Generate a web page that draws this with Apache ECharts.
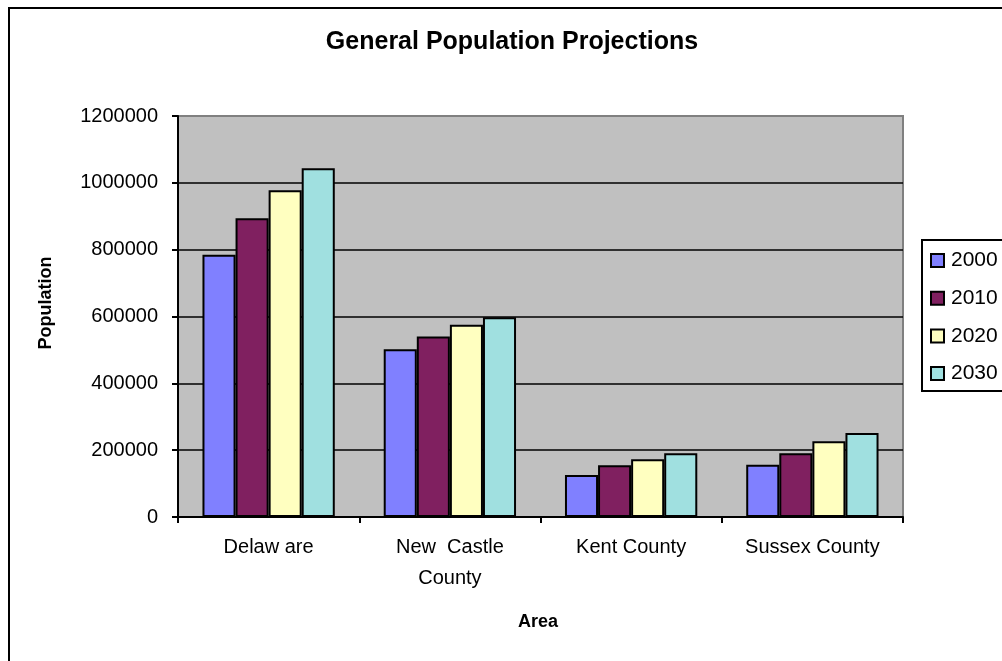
<!DOCTYPE html>
<html>
<head>
<meta charset="utf-8">
<script src="https://cdn.jsdelivr.net/npm/echarts@6/dist/echarts.min.js"></script>
<style>
html,body{margin:0;padding:0;background:#fff;}
#chart{width:1002px;height:661px;}
</style>
</head>
<body>
<div id="chart"></div>
<script>
const categories = ['Delaw are', 'New  Castle\nCounty', 'Kent County', 'Sussex County'];
const years = ['2000', '2010', '2020', '2030'];
const values2000 = [785000, 502000, 126000, 156000];
const values2010 = [894000, 540000, 155000, 191000];
const values2020 = [978000, 575000, 173000, 227000];
const values2030 = [1044000, 598000, 191000, 251000];
const colors = ['#8080FF', '#802060', '#FFFFC0', '#A0E0E0'];
const yTicks = { min: 0, max: 1200000, interval: 200000 };

const seriesValues = [values2000, values2010, values2020, values2030];
const FONT = 'Liberation Sans, Arial, sans-serif';

const chart = echarts.init(document.getElementById('chart'), null, { renderer: 'canvas' });
chart.setOption({
  backgroundColor: '#ffffff',
  animation: false,
  textStyle: { fontFamily: FONT },
  graphic: [
    { type: 'rect', shape: { x: 9, y: 8, width: 1100, height: 700 }, style: { fill: 'none', stroke: '#000', lineWidth: 2 }, z: 100 },
    { type: 'text', x: 512, y: 42, style: { text: 'General Population Projections', font: 'bold 25px ' + FONT, fill: '#000', align: 'center', verticalAlign: 'middle' } },
    { type: 'text', x: 46, y: 303, rotation: Math.PI / 2, style: { text: 'Population', font: 'bold 18px ' + FONT, fill: '#000', align: 'center', verticalAlign: 'middle' } },
    { type: 'text', x: 538, y: 622, style: { text: 'Area', font: 'bold 18px ' + FONT, fill: '#000', align: 'center', verticalAlign: 'middle' } }
  ],
  legend: {
    orient: 'vertical',
    left: 922,
    top: 240,
    padding: [10, 12, 7, 8],
    itemGap: 16.7,
    itemWidth: 13,
    itemHeight: 13,
    borderColor: '#000',
    borderWidth: 2,
    backgroundColor: '#fff',
    icon: 'rect',
    textStyle: { fontSize: 21, color: '#000', fontFamily: FONT, padding: [0, 0, 0, 2] },
    data: years
  },
  grid: {
    left: 178, right: 99, top: 116, bottom: 144,
    show: true, backgroundColor: '#C0C0C0', borderColor: '#808080', borderWidth: 2
  },
  xAxis: {
    type: 'category',
    data: categories,
    axisLine: { show: true, lineStyle: { color: '#000', width: 2 } },
    axisTick: { show: true, length: 6, lineStyle: { color: '#000', width: 2 } },
    axisLabel: { fontSize: 20, color: '#000', margin: 15, lineHeight: 31, fontFamily: FONT },
    splitLine: { show: false }
  },
  yAxis: {
    type: 'value',
    min: yTicks.min, max: yTicks.max, interval: yTicks.interval,
    axisLine: { show: true, lineStyle: { color: '#000', width: 2 } },
    axisTick: { show: true, length: 6, lineStyle: { color: '#000', width: 2 } },
    axisLabel: { fontSize: 20, color: '#000', margin: 20, fontFamily: FONT, formatter: v => String(v) },
    splitLine: { show: true, lineStyle: { color: ['#000', '#000', '#000', '#000', '#000', '#000', '#808080'], width: 1.5 } }
  },
  series: years.map((y, i) => ({
    name: y,
    type: 'bar',
    data: seriesValues[i],
    barGap: '0%',
    barCategoryGap: '27%',
    itemStyle: { color: colors[i], borderColor: '#000', borderWidth: 2 }
  }))
});
</script>
</body>
</html>
